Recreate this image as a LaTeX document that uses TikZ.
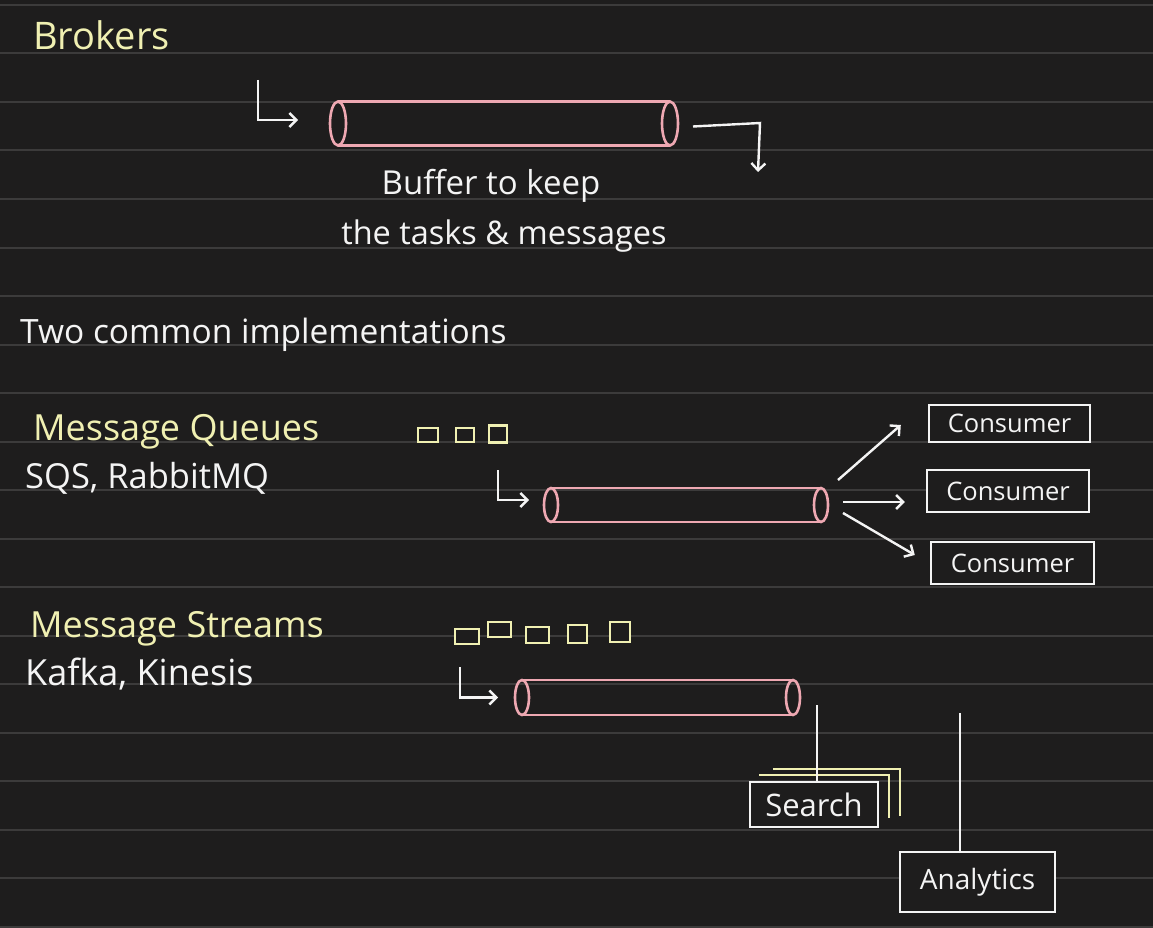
\documentclass[tikz,border=0pt]{standalone}
\usepackage{fontspec}
\setmainfont{Open Sans}
\usetikzlibrary{arrows.meta,calc}
\definecolor{bg}{RGB}{30,29,29}
\definecolor{rulec}{RGB}{60,59,59}
\definecolor{hy}{RGB}{240,240,178}
\definecolor{hp}{RGB}{238,168,178}
\definecolor{hw}{RGB}{244,244,244}
\tikzset{
  tubebody/.style={inner sep=0pt, outer sep=0pt},
  tubeline/.style={draw=hp, line width=2.6},
  arr/.style={draw=hw, line width=2.4, -{Straight Barb[length=7pt,width=14pt,line width=2.4]}},
  plain/.style={draw=hw, line width=2.4},
  msg/.style={draw=hy, line width=2.8, fill=bg, inner sep=0pt},
  sink/.style={draw=hw, line width=2.4, fill=bg, inner sep=0pt, text=hw},
  ytext/.style={text=hy, inner sep=0pt, anchor=base west},
  wtext/.style={text=hw, inner sep=0pt},
}
\begin{document}
\begin{tikzpicture}[x=1pt,y=-1pt]
\fill[bg] (0,0) rectangle (1153,928);
\useasboundingbox (0,0) rectangle (1153,928);
\foreach \k in {0,...,19} \draw[rulec, line width=2] (0,5+48.5*\k) -- (1153,5+48.5*\k);

% ---------- Brokers ----------
\node[ytext, font=\fontsize{38}{44}\selectfont] (brk) at (33,50) {Brokers};
\node[tubebody, minimum width=332, minimum height=44] (t1) at (504,123.5) {};
\draw[tubeline] (t1.north west) -- (t1.north east) (t1.south west) -- (t1.south east);
\draw[tubeline] (t1.west) ellipse [x radius=8, y radius=22];
\draw[tubeline] (t1.east) ellipse [x radius=8, y radius=22];
\coordinate (i1) at (258,80);
\draw[arr] (i1) |- ($(t1.west)+(-40,-3.5)$);
\coordinate (o1s) at ($(t1.east)+(23,3)$);
\coordinate (o1m) at (760,123);
\coordinate (o1) at (758,172);
\draw[arr] (o1s) -- (o1m) -- (o1);
\node[wtext, font=\fontsize{33}{38}\selectfont] (buf1) at (491,186) {Buffer to keep};
\node[wtext, font=\fontsize{32.5}{38}\selectfont] (buf2) at (504,236) {the tasks \& messages};

% ---------- Two common ----------
\node[wtext, anchor=base west, font=\fontsize{33.5}{38}\selectfont] (two) at (20,343) {Two common implementations};

% ---------- Message Queues ----------
\node[ytext, font=\fontsize{36}{42}\selectfont] (mq) at (33,440) {Message Queues};
\node[wtext, anchor=base west, font=\fontsize{34.5}{40}\selectfont] (mqx) at (25,488) {SQS, RabbitMQ};
\node[msg, minimum width=20, minimum height=14] (m1) at (428,435) {};
\node[msg, minimum width=18, minimum height=14] (m2) at (465,435) {};
\node[msg, minimum width=18, minimum height=17] (m3) at (498,434) {};
\node[tubebody, minimum width=270, minimum height=34] (t2) at (686,505) {};
\draw[tubeline] (t2.north west) -- (t2.north east) (t2.south west) -- (t2.south east);
\draw[tubeline] (t2.west) ellipse [x radius=7, y radius=17];
\draw[tubeline] (t2.east) ellipse [x radius=7, y radius=17];
\coordinate (i2) at (498,470);
\draw[arr] (i2) |- ($(t2.west)+(-22,-5)$);
\node[sink, minimum width=161, minimum height=37, font=\fontsize{25.5}{30}\selectfont] (c1) at (1009.5,423.5) {Consumer};
\node[sink, minimum width=162, minimum height=42, font=\fontsize{25.5}{30}\selectfont] (c2) at (1008,491) {Consumer};
\node[sink, minimum width=163, minimum height=42, font=\fontsize{25.5}{30}\selectfont] (c3) at (1012.5,563) {Consumer};
\draw[arr] ($(t2.east)+(17,-25)$) -- ($(c1.west)+(-27,1.5)$);
\draw[arr] ($(t2.east)+(22,-3)$) -- ($(c2.west)+(-21,11)$);
\draw[arr] ($(t2.east)+(22,8)$) -- ($(c3.west)+(-15,-8)$);

% ---------- Message Streams ----------
\node[ytext, font=\fontsize{36}{42}\selectfont] (ms) at (30,637) {Message Streams};
\node[wtext, anchor=base west, font=\fontsize{36}{42}\selectfont] (msx) at (25,685) {Kafka, Kinesis};
\node[msg, minimum width=24, minimum height=15] (s1) at (467,636.5) {};
\node[msg, minimum width=23, minimum height=15] (s2) at (499.5,629.5) {};
\node[msg, minimum width=23, minimum height=16] (s3) at (537.5,635) {};
\node[msg, minimum width=19, minimum height=18] (s4) at (577.5,634) {};
\node[msg, minimum width=20, minimum height=20] (s5) at (620,632) {};
\node[tubebody, minimum width=271, minimum height=35] (t3) at (657.5,697.5) {};
\draw[tubeline] (t3.north west) -- (t3.north east) (t3.south west) -- (t3.south east);
\draw[tubeline] (t3.west) ellipse [x radius=7, y radius=17.5];
\draw[tubeline] (t3.east) ellipse [x radius=7, y radius=17.5];
\coordinate (i3) at (460,667);
\draw[arr] (i3) |- ($(t3.west)+(-24,0)$);

% Search with stacked copies
\coordinate (sc) at (814,804.5);
\draw[hy, line width=2.2] ($(sc)+(-41,-35.5)$) -- ($(sc)+(86,-35.5)$) -- ($(sc)+(86,11.5)$);
\draw[hy, line width=2.2] ($(sc)+(-55,-29.5)$) -- ($(sc)+(75,-29.5)$) -- ($(sc)+(75,13.5)$);
\node[sink, minimum width=128, minimum height=45, font=\fontsize{31}{36}\selectfont] (srch) at (sc) {Search};
\coordinate (l1) at (817,705);
\draw[plain] (l1) -- (l1 |- srch.north);

\node[sink, minimum width=155, minimum height=60, font=\fontsize{28}{34}\selectfont] (ana) at (977.5,882) {Analytics};
\coordinate (l2) at (960,713);
\draw[plain] (l2) -- (l2 |- ana.north);
\end{tikzpicture}
\end{document}
